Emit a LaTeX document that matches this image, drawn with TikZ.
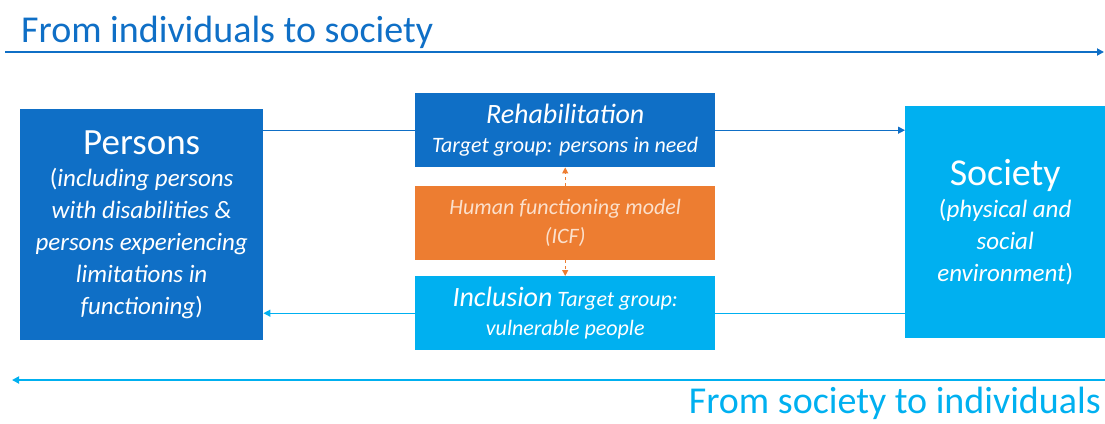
\documentclass[tikz,border=0pt]{standalone}
\usepackage{fontspec}
\setmainfont{Carlito}
\usepackage{tikz}
\usetikzlibrary{arrows.meta,positioning}

\definecolor{icfblue}{HTML}{0F6FC6}
\definecolor{icflight}{HTML}{00B0F0}
\definecolor{icforange}{HTML}{ED7D31}
\definecolor{icfpeach}{HTML}{FBE0CC}

\tikzset{
  bigbox/.style={anchor=north west, inner sep=0pt, text=white, align=center,
    font=\fontsize{25}{32}\selectfont},
  midbox/.style={anchor=north west, inner sep=0pt, text=white, align=center,
    minimum width=300pt, minimum height=74pt, font=\fontsize{22}{29}\selectfont},
  flow/.style={line width=1.3pt},
  tip/.style={-{Triangle[length=7pt,width=7pt]}},
  dirtext/.style={inner sep=0pt, font=\fontsize{38}{40}\selectfont},
}

\begin{document}
\begin{tikzpicture}[x=1pt, y=-1pt]
\useasboundingbox (0,0) rectangle (1105,423);
%%%%% Directions %%%%%
\node[dirtext, anchor=base west, text=icfblue] (uptitle) at (21,42) {From individuals to society};
\coordinate (upstart) at (5,52);
\coordinate (upend) at (1104,52);
\draw[icfblue, line width=2pt, tip] (upstart) -- (upend);
\coordinate (downstart) at (1105,380);
\coordinate (downend) at (12,380);
\draw[icflight, line width=2pt, tip] (downstart) -- (downend);
\node[dirtext, anchor=base east, text=icflight] (downtitle) at (1101,413) {From society to individuals};

%%%%% Boxes %%%%%
\node[bigbox, fill=icfblue, minimum width=243pt, minimum height=231pt] (persons) at (20,109)
  {{\fontsize{37}{40}\selectfont Persons}\\
   (\textit{including persons}\\
   \textit{with disabilities \&}\\
   \textit{persons experiencing}\\
   \textit{limitations in}\\
   \textit{functioning})};
\node[bigbox, fill=icflight, minimum width=200pt, minimum height=232pt] (society) at (905,106)
  {{\fontsize{38}{40}\selectfont Society}\\
   (\textit{physical and}\\
   \textit{social}\\
   \textit{environment})};
\node[midbox, fill=icfblue] (rehab) at (415,93)
  {{\fontsize{28}{30}\selectfont\itshape Rehabilitation}\\
   \textit{Target group: persons in need}};
\node[midbox, fill=icforange, text=icfpeach] (icf) at (415,186)
  {\textit{Human functioning model}\\
   \textit{(ICF)}};
\node[midbox, fill=icflight] (incl) at (415,276)
  {\textit{{\fontsize{28}{30}\selectfont Inclusion} Target group:}\\
   \textit{vulnerable people}};

%%%%% Links %%%%%
\draw[flow, icfblue] (persons.east |- rehab.west) -- (rehab.west);
\draw[flow, icfblue, tip] (rehab.east) -- (society.west |- rehab.east);
\draw[flow, icflight] (society.west |- incl.east) -- (incl.east);
\draw[flow, icflight, tip] (incl.west) -- (persons.east |- incl.west);
\draw[icforange, line width=1pt, dashed, -{Triangle[length=6pt,width=6pt]}] (icf.north) -- (rehab.south);
\draw[icforange, line width=1pt, dashed, -{Triangle[length=6pt,width=6pt]}] (icf.south) -- (incl.north);
\end{tikzpicture}
\end{document}
